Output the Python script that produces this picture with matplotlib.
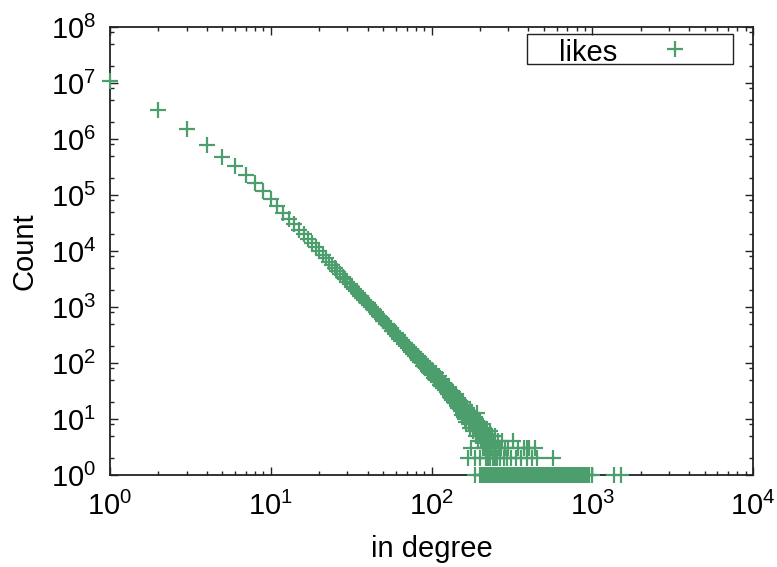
import numpy as np
import matplotlib
matplotlib.use('Agg')
import matplotlib.pyplot as plt
from matplotlib.ticker import LogLocator, NullFormatter
from matplotlib.patches import Rectangle

plt.rcParams['font.family'] = ['Liberation Sans', 'DejaVu Sans']
plt.rcParams['mathtext.default'] = 'regular'

# in-degree 1..150, one count per degree
head_deg = np.arange(1, 151)
head_cnt = [
    11000000, 3300000, 1500000, 780000, 480000, 330000, 230000, 162000, 117000, 85000,
    63400, 48400, 37800, 30000, 24200, 19800, 16400, 13800, 11600, 9930,
    8530, 7390, 6440, 5640, 4980, 4400, 3920, 3500, 3140, 2830,
    2610, 2310, 2100, 1910, 1750, 1600, 1440, 1360, 1250, 1160,
    1070, 995, 925, 880, 804, 750, 690, 658, 617, 565,
    560, 495, 500, 470, 415, 420, 375, 380, 335, 340,
    300, 310, 272, 282, 248, 256, 222, 232, 206, 212,
    188, 196, 170, 180, 158, 166, 144, 155, 133, 141,
    122, 133, 114, 124, 104, 116, 98, 107, 90, 101,
    84, 95, 80, 89, 73, 83, 69, 78, 64, 74,
    60, 71, 55, 62, 52, 66, 49, 57, 45, 53,
    47, 58, 41, 50, 39, 46, 52, 36, 44, 40,
    33, 42, 37, 30, 38, 34, 28, 36, 31, 25,
    33, 29, 24, 31, 22, 27, 30, 20, 26, 23,
    19, 28, 21, 17, 24, 20, 16, 22, 18, 15,
]

# sparse tail, degrees above 150
tail_deg = [
    151, 152, 153, 154, 155, 156, 157, 158, 159, 160, 161, 162, 163, 164, 165, 166,
    167, 168, 169, 170, 171, 172, 173, 174, 175, 176, 177, 178, 179, 180, 181, 182,
    183, 184, 185, 186, 187, 188, 189, 190, 191, 192, 193, 194, 195, 196, 197, 198,
    199, 200, 201, 202, 203, 204, 205, 206, 207, 208, 209, 210, 211, 212, 213, 214,
    215, 216, 217, 218, 219, 220, 221, 222, 223, 224, 225, 226, 227, 228, 229, 230,
    231, 232, 233, 234, 235, 236, 237, 238, 240, 241, 242, 244, 245, 247, 248, 250,
    251, 253, 254, 255, 257, 258, 260, 262, 264, 266, 268, 270, 272, 275, 277, 281,
    283, 287, 290, 294, 297, 300, 304, 308, 312, 316, 321, 325, 330, 334, 338, 343,
    346, 350, 355, 360, 366, 372, 375, 380, 386, 390, 393, 398, 405, 410, 416, 420,
    428, 435, 440, 445, 452, 460, 468, 476, 485, 494, 503, 512, 521, 530, 540, 550,
    560, 570, 582, 594, 606, 618, 631, 645, 660, 675, 690, 706, 722, 740, 757, 775,
    795, 815, 836, 858, 880, 905, 930, 958, 990, 1370, 1520,
]
tail_cnt = [
    21, 14, 18, 12, 17, 20, 13, 16, 11, 15, 18, 10, 14, 12, 9, 16,
    11, 2, 13, 8, 12, 10, 14, 7, 3, 11, 9, 13, 8, 10, 6, 12,
    9, 7, 11, 2, 1, 8, 5, 10, 7, 13, 6, 9, 8, 4,
    5, 7, 1, 9, 2, 6, 4, 7, 1, 5, 8, 3, 6, 1, 5, 7, 4, 1,
    3, 6, 1, 5, 2, 4, 3, 1, 6, 2, 1, 5, 4, 1, 3, 1,
    6, 2, 1, 4, 1, 3, 1, 5, 2, 1, 4, 1, 3, 2, 1, 5,
    1, 3, 1, 2, 1, 4, 1, 3, 1, 2, 1, 3, 1, 4, 1, 2,
    1, 3, 1, 2, 1, 3, 1, 1, 2, 1, 4, 1, 1, 2, 1, 1,
    3, 1, 1, 2, 1, 1, 3, 1, 1, 2, 3, 1, 3, 1, 1, 2,
    1, 1, 3, 1, 2, 1, 1, 1, 1, 1, 1, 1, 1, 1, 1, 1,
    1, 2, 1, 1, 1, 1, 1, 1, 1, 1, 1, 1, 1, 1, 1, 1,
    1, 1, 1, 1, 1, 1, 1, 1, 1, 1, 1,
]

degree = np.concatenate([head_deg, tail_deg])
count = np.concatenate([head_cnt, tail_cnt])

GREEN = '#4c9f6d'
FS = 21

fig = plt.figure(figsize=(7.77, 5.67), dpi=100)
ax = fig.add_axes([110/777, 1 - 475/567, 643/777, 448/567])

ax.plot(degree, count, '+', color=GREEN, ms=12, mew=1.6, clip_on=False, zorder=3)

ax.set_xscale('log')
ax.set_yscale('log')
ax.set_xlim(1, 1e4)
ax.set_ylim(1, 1e8)

ax.xaxis.set_major_locator(LogLocator(base=10, numticks=10))
ax.xaxis.set_minor_locator(LogLocator(base=10, subs=np.arange(2, 10), numticks=20))
ax.yaxis.set_major_locator(LogLocator(base=10, numticks=12))
ax.yaxis.set_minor_locator(LogLocator(base=10, subs=[2, 5, 8], numticks=20))
ax.xaxis.set_minor_formatter(NullFormatter())
ax.yaxis.set_minor_formatter(NullFormatter())

ax.tick_params(which='both', direction='in', top=True, right=True, width=1, colors='#222222')
ax.tick_params(which='major', length=6, labelsize=FS, labelcolor='black')
ax.tick_params(axis='x', which='major', pad=12)
ax.tick_params(axis='y', which='major', pad=10)
ax.tick_params(which='minor', length=3)
for sp in ax.spines.values():
    sp.set_linewidth(1.3)
    sp.set_color('#222222')

ax.set_xlabel('in degree', fontsize=FS, labelpad=10)
ax.set_ylabel('Count', fontsize=FS, labelpad=9)

# key box, gnuplot style
ax.add_patch(Rectangle((0.6485, 0.917), 0.3204, 0.067, transform=ax.transAxes,
                       fill=False, edgecolor='#222222', lw=1.0, zorder=4))
ax.text(0.743, 0.949, 'likes', transform=ax.transAxes, fontsize=FS,
        ha='center', va='center_baseline', zorder=5)
ax.plot([0.879], [0.951], '+', color=GREEN, ms=12, mew=1.6,
        transform=ax.transAxes, zorder=5)

fig.savefig('out.png', dpi=100)
